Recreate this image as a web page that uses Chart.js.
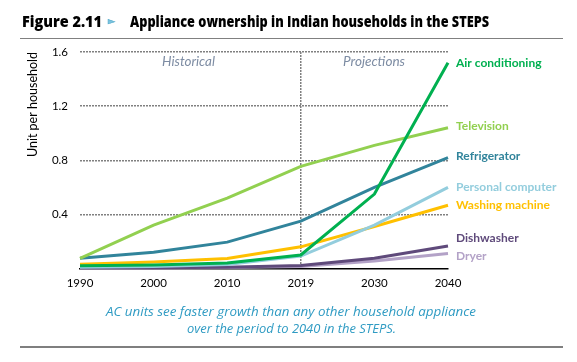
<!DOCTYPE html>
<html>
<head>
<meta charset="utf-8">
<script src="https://cdn.jsdelivr.net/npm/chart.js@4/dist/chart.umd.min.js"></script>
<style>
html,body{margin:0;padding:0;background:#fff;width:577px;height:362px;overflow:hidden;}
#wrap{position:relative;width:577px;height:362px;}
#c{position:absolute;left:0;top:0;}
.t{position:absolute;white-space:nowrap;transform-origin:0 50%;}
.hd{font-family:"Open Sans",sans-serif;font-weight:800;font-size:15px;line-height:20px;color:#000;}
.cap{font-family:"Open Sans",sans-serif;font-style:italic;font-size:12px;line-height:16px;color:#2f9bc3;}
.ph{font-family:Lato,sans-serif;font-style:italic;font-size:12.5px;line-height:16px;color:#7d8ca3;}
.rule{position:absolute;background:#808080;}
</style>
</head>
<body>
<div id="wrap">
<canvas id="c" width="577" height="362"></canvas>
<div class="t hd" id="figno" style="left:22px;top:11px;">Figure 2.11</div>
<div class="t" id="tri" style="left:108px;top:11px;font-family:'DejaVu Sans';font-size:9px;line-height:20px;color:#7cc3de;-webkit-text-stroke:0.5px #4aa6c8;">&#9658;</div>
<div class="t hd" id="ttl" style="left:130px;top:11px;">Appliance ownership in Indian households in the STEPS</div>
<div class="rule" style="left:20px;top:38px;width:543px;height:1px;"></div>
<div class="t ph" id="hist" style="left:162px;top:54px;">Historical</div>
<div class="t ph" id="proj" style="left:343px;top:54px;">Projections</div>
<div class="t cap" id="cap1" style="left:106px;top:304px;">AC units see faster growth than any other household appliance</div>
<div class="t cap" id="cap2" style="left:187px;top:321px;">over the period to 2040 in the STEPS.</div>
<div class="rule" style="left:20px;top:346px;width:543px;height:2px;background:#7f7f7f;"></div>
</div>
<script>
// ---- data ----
const years = ['1990', '2000', '2010', '2019', '2030', '2040'];
const airConditioning  = [0.020, 0.025, 0.040, 0.100, 0.550, 1.520];
const television       = [0.075, 0.320, 0.520, 0.755, 0.910, 1.040];
const refrigerator     = [0.075, 0.120, 0.195, 0.350, 0.600, 0.820];
const personalComputer = [0.010, 0.015, 0.030, 0.092, 0.320, 0.600];
const washingMachine   = [0.032, 0.048, 0.074, 0.160, 0.310, 0.467];
const dishwasher       = [0.005, 0.006, 0.010, 0.022, 0.075, 0.167];
const dryer            = [0.003, 0.004, 0.008, 0.014, 0.055, 0.110];
const seriesNames = ['Air conditioning', 'Television', 'Refrigerator', 'Personal computer', 'Washing machine', 'Dishwasher', 'Dryer'];
const yTickValues = [0.4, 0.8, 1.2, 1.6];

// ---- styles ----
const colors = ['#00b050', '#92d050', '#31849b', '#93cddd', '#ffc000', '#5f4a7b', '#b3a2c7'];
const labelShiftY = [0, -2, -1, 0, 0, -8, 3];
const seriesValues = [airConditioning, television, refrigerator, personalComputer, washingMachine, dishwasher, dryer];

// fit header/caption text widths
function fit(id, target) {
  const el = document.getElementById(id);
  const w = el.getBoundingClientRect().width;
  el.style.transform = 'scaleX(' + (target / w) + ')';
}
fit('figno', 80); fit('ttl', 359); fit('cap1', 370); fit('cap2', 209);
fit('hist', 53); fit('proj', 62);

const endLabels = {
  id: 'endLabels',
  afterDatasetsDraw(chart) {
    const ctx = chart.ctx;
    chart.data.datasets.forEach((ds, i) => {
      const meta = chart.getDatasetMeta(i);
      const pt = meta.data[meta.data.length - 1];
      ctx.save();
      ctx.font = 'bold 12px Lato';
      ctx.fillStyle = ds.borderColor;
      ctx.textBaseline = 'middle';
      ctx.textAlign = 'left';
      ctx.fillText(ds.label, pt.x + 8, pt.y + labelShiftY[i]);
      ctx.restore();
    });
  }
};

new Chart(document.getElementById('c'), {
  type: 'line',
  data: {
    labels: years,
    datasets: seriesNames.map((n, i) => ({
      label: n,
      data: seriesValues[i],
      borderColor: colors[i],
      backgroundColor: colors[i],
      borderWidth: 3,
      pointRadius: 0,
      tension: 0,
      fill: false,
      clip: false
    }))
  },
  options: {
    responsive: false,
    animation: false,
    devicePixelRatio: 1,
    layout: { padding: { left: 0, top: 52, right: 129, bottom: 0 } },
    plugins: { legend: { display: false }, tooltip: { enabled: false }, title: { display: false } },
    scales: {
      x: {
        type: 'category',
        offset: false,
        grid: {
          display: true,
          drawTicks: false,
          lineWidth: 1.5,
          color: (c) => (c.index === 3 ? '#808080' : 'rgba(0,0,0,0)')
        },
        border: { display: true, color: '#000', width: 1.5, dash: [2, 1] },
        ticks: { padding: 8, color: '#000', font: { family: 'Lato', size: 11.5 }, maxRotation: 0, autoSkip: false },
        afterFit: (s) => { s.height = 362 - 268.5; }
      },
      y: {
        min: 0, max: 1.6,
        afterBuildTicks: (s) => { s.ticks = [0].concat(yTickValues).map(v => ({ value: v })); },
        ticks: {
          padding: 12, color: '#000', font: { family: 'Lato', size: 11.5 },
          callback: (v) => (v === 0 ? '' : Number(v).toFixed(1))
        },
        grid: {
          drawTicks: false,
          lineWidth: 1.5,
          color: (c) => (c.tick && c.tick.value === 0 ? 'rgba(0,0,0,0)' : '#808080')
        },
        border: { display: false, dash: [2, 1] },
        title: {
          display: true, text: 'Unit per household', align: 'end', color: '#000',
          font: { family: 'Lato', size: 12.5 }, padding: { top: 25, bottom: 0 }
        },
        afterFit: (s) => { s.width = 80; }
      }
    }
  },
  plugins: [endLabels]
});
</script>
</body>
</html>
